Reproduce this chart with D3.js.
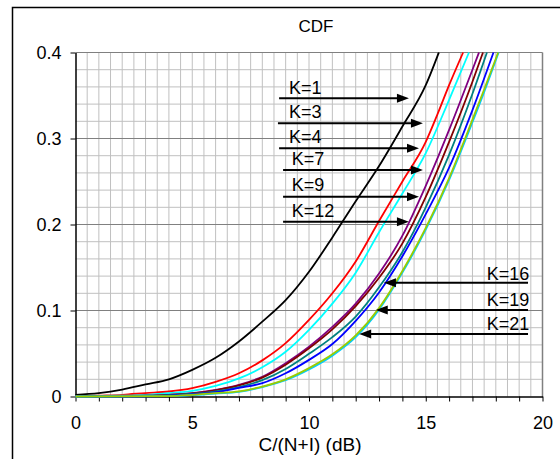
<!DOCTYPE html>
<html><head><meta charset="utf-8">
<script src="https://cdn.jsdelivr.net/npm/d3@7"></script>
<style>body{margin:0;background:#fff}svg{display:block}text{font-family:"Liberation Sans",Arial,sans-serif;fill:#000}</style>
</head><body><svg id="c" width="560" height="459"></svg>
<script>
// ---- data (C/(N+I) in dB, CDF) ----
const cdfK1  = [[0,0.002],[1,0.004],[2,0.008],[3,0.014],[4,0.020],[5,0.031],[6,0.045],[7,0.064],[8,0.087],[9,0.112],[10,0.145],[11,0.185],[12,0.227],[13,0.268],[14,0.314],[15,0.362],[15.56,0.40]];
const cdfK3  = [[0,0],[1,0.001],[2,0.002],[3,0.004],[4,0.0058],[5,0.0097],[6,0.017],[7,0.027],[8,0.042],[9,0.062],[10,0.089],[11,0.120],[12,0.157],[13,0.204],[14,0.250],[15,0.296],[15.5,0.328],[16,0.362],[16.6,0.40]];
const cdfK4  = [[0,0],[1,0.0005],[2,0.001],[3,0.002],[4,0.004],[5,0.0066],[6,0.0124],[7,0.021],[8,0.034],[9,0.052],[10,0.0775],[11,0.108],[12,0.144],[13,0.191],[14,0.236],[15,0.283],[16,0.345],[16.85,0.40]];
const cdfK7  = [[0,0],[2,0.0005],[3,0.001],[4,0.002],[5,0.004],[6,0.0078],[7,0.0136],[8,0.023],[9,0.0388],[10,0.058],[11,0.081],[12,0.108],[13,0.143],[14,0.187],[15,0.245],[16,0.310],[17,0.380],[17.28,0.40]];
const cdfK9  = [[0,0],[2,0.0004],[3,0.001],[4,0.002],[5,0.0037],[6,0.0072],[7,0.0128],[8,0.022],[9,0.037],[10,0.056],[11,0.078],[12,0.105],[13,0.138],[14,0.178],[15,0.232],[16,0.296],[17,0.366],[17.45,0.40]];
const cdfK12 = [[0,0],[3,0.0005],[4,0.0015],[5,0.003],[6,0.006],[7,0.011],[8,0.019],[9,0.032],[10,0.0496],[11,0.069],[12,0.093],[13,0.127],[14,0.168],[15,0.220],[16,0.281],[17,0.352],[17.62,0.40]];
const cdfK16 = [[0,0],[3,0.0003],[4,0.001],[5,0.0025],[6,0.005],[7,0.010],[8,0.0155],[9,0.027],[10,0.0426],[11,0.061],[12,0.088],[13,0.121],[14,0.163],[15,0.212],[16,0.266],[17,0.333],[17.9,0.40]];
const cdfK19 = [[0,0],[4,0.0004],[5,0.0015],[6,0.0035],[7,0.0055],[8,0.011],[9,0.019],[10,0.0315],[11,0.0475],[12,0.069],[13,0.101],[14,0.144],[15,0.194],[16,0.252],[17,0.319],[17.5,0.354],[18.12,0.40]];
const cdfK21 = [[0,0],[4,0.0005],[5,0.002],[6,0.004],[7,0.006],[8,0.0116],[9,0.020],[10,0.033],[11,0.049],[12,0.071],[13,0.103],[14,0.146],[15,0.196],[16,0.254],[17,0.322],[17.5,0.357],[18.1,0.40]];
const seriesNames = ["K=1","K=3","K=4","K=7","K=9","K=12","K=16","K=19","K=21"];
const seriesData = [cdfK1,cdfK3,cdfK4,cdfK7,cdfK9,cdfK12,cdfK16,cdfK19,cdfK21];
const seriesColors = ["#000000","#ff0000","#00ffff","#800080","#800000","#008080","#0000ff","#00ccff","#99cc00"];
const xTickValues = d3.range(0,21,1);
const yTickValues = [0,0.1,0.2,0.3,0.4];
// annotation arrows in data units: [label, fromX, toX, y, labelX, labelY, side]
const arrowNotes = [
  ["K=1", 8.72,14.28,0.3467, 9.14,0.3512,"left"],
  ["K=3", 8.67,14.88,0.3177, 9.14,0.3235,"left"],
  ["K=4", 8.72,14.71,0.2886, 9.14,0.2944,"left"],
  ["K=7", 8.89,14.88,0.2634, 9.26,0.2692,"left"],
  ["K=9", 8.89,14.71,0.2323, 9.26,0.2393,"left"],
  ["K=12",8.89,14.28,0.2033, 9.26,0.2091,"left"],
  ["K=16",19.38,13.21,0.1323,19.43,0.1355,"right"],
  ["K=19",19.38,12.86,0.1006,19.43,0.1052,"right"],
  ["K=21",19.38,12.15,0.0727,19.43,0.0773,"right"]
];

const svg = d3.select("#c");
const x = d3.scaleLinear().domain([0,20]).range([75.5,542.5]);
const y = d3.scaleLinear().domain([0,0.4]).range([396.5,52.5]);

// outer chart frame (left/top visible)
svg.append("rect").attr("x",12.5).attr("y",7.5).attr("width",600).attr("height",500)
  .attr("fill","none").attr("stroke","#000").attr("stroke-width",1.5);

// title
svg.append("text").attr("x",316).attr("y",31.5).attr("text-anchor","middle")
  .style("font-size","17px").text("CDF");

// grid
const g = svg.append("g");
d3.range(0.5,20,0.5).forEach(v=>{
  g.append("line").attr("x1",x(v)).attr("x2",x(v)).attr("y1",y(0)).attr("y2",y(0.4))
   .attr("stroke","#c0c0c0").attr("stroke-width",1);
});
d3.range(1,20).forEach(i=>{
  const v=i*0.02; if(i%5===0) return;
  g.append("line").attr("x1",x(0)).attr("x2",x(20)).attr("y1",y(v)).attr("y2",y(v))
   .attr("stroke","#c0c0c0").attr("stroke-width",1);
});
[0.1,0.2,0.3,0.4].forEach(v=>{
  g.append("line").attr("x1",x(0)).attr("x2",x(20)).attr("y1",y(v)).attr("y2",y(v))
   .attr("stroke","#808080").attr("stroke-width",1);
});
g.append("line").attr("x1",x(20)).attr("x2",x(20)).attr("y1",y(0)).attr("y2",y(0.4))
  .attr("stroke","#808080").attr("stroke-width",1.5);

// axes
const xAxis = svg.append("g").attr("transform",`translate(0,${y(0)})`)
  .call(d3.axisBottom(x).tickValues(xTickValues).tickSize(5).tickSizeOuter(0).tickPadding(15)
    .tickFormat(d=>d%5===0?d3.format("d")(d):""));
xAxis.select(".domain").attr("stroke","#000").attr("stroke-width",1.5);
xAxis.selectAll(".tick line").attr("stroke","#000").attr("stroke-width",1);
xAxis.selectAll("text").style("font-size","18px").attr("font-family",null);

const yAxis = svg.append("g").attr("transform",`translate(${x(0)},0)`)
  .call(d3.axisLeft(y).tickValues(yTickValues).tickSize(5).tickSizeOuter(0).tickPadding(9)
    .tickFormat(d=>d===0?"0":d3.format(".1f")(d)));
yAxis.select(".domain").attr("stroke","#000").attr("stroke-width",1.5);
yAxis.selectAll(".tick line").attr("stroke","#000").attr("stroke-width",1);
yAxis.selectAll("text").style("font-size","18px").attr("font-family",null);

svg.append("text").attr("x",310).attr("y",450.5).attr("text-anchor","middle")
  .style("font-size","19px").text("C/(N+I) (dB)");

// curves
const line = d3.line().x(d=>x(d[0])).y(d=>y(d[1])).curve(d3.curveMonotoneX);
seriesData.forEach((s,i)=>{
  svg.append("path").datum(s).attr("d",line).attr("fill","none")
    .attr("stroke",seriesColors[i]).attr("stroke-width",1.8).attr("stroke-linejoin","round");
});

// arrows and labels
const ann = svg.append("g");
arrowNotes.forEach(a=>{
  const [lab,fx,tx,yy,lx,ly,side]=a;
  const x1=x(fx), x2=x(tx), yp=y(yy);
  const dir = x2>x1?1:-1, head=12, hw=4.5;
  ann.append("line").attr("x1",x1).attr("x2",x2-dir*head+dir*1).attr("y1",yp).attr("y2",yp)
    .attr("stroke","#000").attr("stroke-width",2);
  ann.append("path").attr("d",`M${x2},${yp}L${x2-dir*head},${yp-hw}L${x2-dir*head},${yp+hw}Z`).attr("fill","#000");
  ann.append("text").attr("x",x(lx)).attr("y",y(ly))
    .attr("text-anchor",side==="left"?"start":"end").style("font-size","18px").text(lab);
});
</script></body></html>
